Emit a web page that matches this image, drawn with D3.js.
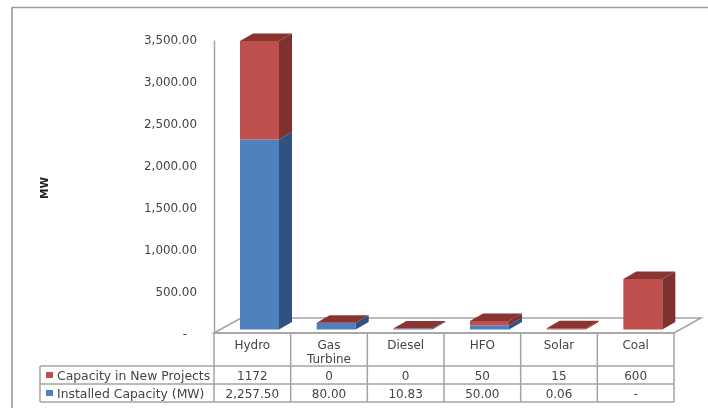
<!DOCTYPE html>
<html><head><meta charset="utf-8">
<script src="https://cdn.jsdelivr.net/npm/d3@7"></script>
<style>html,body{margin:0;padding:0;background:#fff}svg{display:block;filter:blur(0.5px)}text{font-family:"DejaVu Sans",sans-serif;fill:#454545}</style>
</head><body><svg id="c" width="708" height="408"></svg>
<script>
const categories=["Hydro","Gas Turbine","Diesel","HFO","Solar","Coal"];
const installed=[2257.5,80,10.83,50,0.06,0];
const newProjects=[1172,0,0,50,15,600];
const installedLabels=["2,257.50","80.00","10.83","50.00","0.06","-"];
const newLabels=["1172","0","0","50","15","600"];
const seriesNames=["Capacity in New Projects","Installed Capacity (MW)"];
const ticks=[0,500,1000,1500,2000,2500,3000,3500];

const svg=d3.select("#c");
const grey="#a3a3a3";
const line=(x1,y1,x2,y2,c=grey,w=1.5)=>svg.append("line").attr("x1",x1).attr("y1",y1).attr("x2",x2).attr("y2",y2).attr("stroke",c).attr("stroke-width",w);

const xBand=d3.scaleBand().domain(categories).range([214,674]);
const yAxisScale=d3.scaleLinear().domain([0,3500]).range([334,40]);
const yBar=d3.scaleLinear().domain([0,3500]).range([329.5,35]);
const dx=13,dy=7.5;

// outer frame
line(12,7.5,708,7.5,"#9a9a9a",1.6);
line(12,7,12,408,"#9a9a9a",1.6);

// y axis
const axis=d3.axisLeft(yAxisScale).tickValues(ticks).tickSize(0).tickPadding(17)
 .tickFormat(d=>d===0?"-":d3.format(",.2f")(d));
const ag=svg.append("g").attr("transform","translate(214,0)").call(axis);
ag.select(".domain").attr("stroke",grey).attr("stroke-width",1.5);
ag.selectAll("text").attr("font-size",11.9).style("font-family",'"DejaVu Sans",sans-serif').attr("fill","#454545");
ag.selectAll(".tick").filter(d=>d===0).select("text").attr("dx",-10);

svg.append("text").attr("transform","translate(48,188) rotate(-90)").attr("text-anchor","middle")
 .attr("font-size",10.5).attr("font-weight",700).style("fill","#222").text("MW");

// floor
svg.append("path").attr("fill","#fff").attr("stroke",grey).attr("stroke-width",1.5)
 .attr("d",d3.line()([[214,333],[241,318],[701,318],[674,333]])+"Z");

// stacked 3D bars
const face=(x,w,y0,y1,front,side,top)=>{
  const poly=(pts,c)=>svg.append("polygon").attr("points",pts.join(" ")).attr("fill",c);
  if(y0>y1){
    poly([[x,y0],[x+w,y0],[x+w,y1],[x,y1]],front);
    poly([[x+w,y0],[x+w+dx,y0-dy],[x+w+dx,y1-dy],[x+w,y1]],side);
  }
  if(top) poly([[x,y1],[x+w,y1],[x+w+dx,y1-dy],[x+dx,y1-dy]],top);
};
categories.forEach((c,i)=>{
  const x=xBand(c)+26,w=39;
  const y0=yBar(0),y1=yBar(installed[i]),y2=yBar(installed[i]+newProjects[i]);
  face(x,w,y0,y1,"#4f81bd","#2f5282",null);
  face(x,w,y1,y2,"#c0504d","#7f312f","#8a3432");
});

// data table
const cols=[214].concat(categories.map(c=>xBand(c)+xBand.bandwidth()));
line(214,333,674,333);
cols.forEach(x=>line(x,333,x,402));
line(40,366,674,366);line(40,384,674,384);line(40,402,674,402);line(40,366,40,402);
const ctext=(x,y,t,anchor="middle",fs=12)=>svg.append("text").attr("x",x).attr("y",y).attr("text-anchor",anchor).attr("font-size",fs).text(t);
categories.forEach((c,i)=>{
  const cx=xBand(c)+xBand.bandwidth()/2;
  c.split(" ").forEach((p,k)=>ctext(cx,349+k*14,p));
  ctext(cx,379.5,newLabels[i]);
  ctext(cx,397.5,installedLabels[i]);
});
[["#c0504d",375,379.5],["#4f81bd",393,397.5]].forEach((r,i)=>{
  svg.append("rect").attr("x",46).attr("y",r[1]-3).attr("width",7).attr("height",6).attr("fill",r[0]);
  ctext(57,r[2],seriesNames[i],"start",12.4);
});
</script></body></html>
